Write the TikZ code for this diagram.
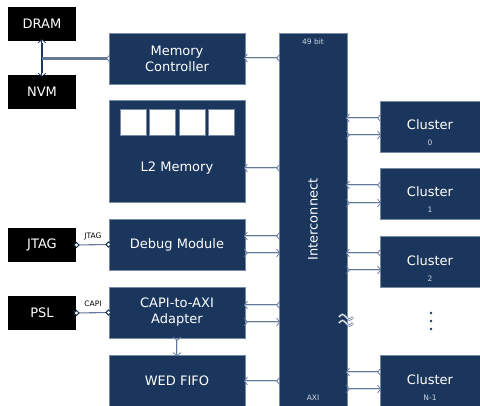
\documentclass[tikz,border=0pt]{standalone}
\usepackage{fontspec}
\setmainfont{DejaVu Sans}
\usetikzlibrary{arrows.meta,calc}
\definecolor{navy}{RGB}{27,54,93}
\definecolor{wire}{RGB}{100,120,152}
\definecolor{core}{RGB}{212,220,232}
\definecolor{rim}{RGB}{120,138,165}
\definecolor{faint}{RGB}{205,214,226}
\begin{document}
\begin{tikzpicture}[x=1pt,y=-1pt,
  block/.style={draw=rim, line width=0.6pt, fill=navy, text=white, inner sep=0pt,
    align=center, font=\fontsize{13}{16}\selectfont},
  unit/.style={block, minimum width=136pt, minimum height=51pt},
  clus/.style={block, minimum width=100pt, minimum height=51pt},
  ext/.style={fill=black, text=white, inner sep=0pt, minimum width=68pt,
    minimum height=34pt, font=\fontsize{13}{16}\selectfont},
  lbl/.style={text=white, inner sep=0pt, font=\fontsize{13}{16}\selectfont},
  tiny/.style={inner sep=0pt, font=\fontsize{7.5}{9}\selectfont},
  tinyw/.style={tiny, text=faint},
  cell/.style={fill=white, draw=rim, line width=0.4pt, minimum size=26pt, inner sep=0pt},
  wirebase/.style={draw=wire, line width=0.75pt, double=core, double distance=0.8pt},
  conn/.style={wirebase, shorten <=-1.5pt, shorten >=-1.5pt,
    {Straight Barb[reversed,round,length=3.2pt,width=7.5pt]}-{Straight Barb[round,length=3.2pt,width=7.5pt]}},
  tap/.style={wirebase, shorten <=-1.5pt,
    {Straight Barb[reversed,round,length=3.2pt,width=7.5pt]}-},
  bidir/.style={draw=navy, line width=0.75pt, double=white, double distance=0.8pt,
    shorten <=-2pt, shorten >=-2pt,
    {Straight Barb[round,length=3.2pt,width=7.5pt]}-{Straight Barb[round,length=3.2pt,width=7.5pt]}},
  dia/.style={draw=wire, line width=1.1pt, shorten <=-3pt, shorten >=-3pt,
    {Diamond[fill=white,color=navy!70!black,line width=1pt,length=6.5pt,width=6.5pt]}-{Diamond[fill=white,color=navy,line width=1pt,length=6.5pt,width=6.5pt]}},
  dot/.style={fill=navy, circle, inner sep=0pt, minimum size=2.6pt}
]
\useasboundingbox (0,0) rectangle (480,406);

% external parts
\node[ext] (dram) at (42,24) {DRAM};
\node[ext] (nvm)  at (42,92) {NVM};
\node[ext] (jtag) at (42,245) {JTAG};
\node[ext] (psl)  at (42,313) {PSL};

% on-chip units
\node[unit] (mc) at (177,58.5) {Memory\\Controller};
\node[block, minimum width=136pt, minimum height=102pt] (l2) at (177,151) {};
\node[lbl] (l2t) at (177,168) {L2 Memory};
\node[cell] (b1) at (133,122) {};
\node[cell] (b2) at (162,122) {};
\node[cell] (b3) at (192,122) {};
\node[cell] (b4) at (221,122) {};
\node[unit] (dm)   at (177,244.5) {Debug Module};
\node[unit] (capi) at (177,312.5) {CAPI-to-AXI\\Adapter};
\node[unit] (wed)  at (177,380.5) {WED FIFO};

% interconnect
\node[block, minimum width=68pt, minimum height=373pt] (ic) at (313,219.5) {};
\node[lbl, rotate=90] (ict) at (313,219.5) {Interconnect};
\node[tinyw] (icw) at (313,42) {49 bit};
\node[tinyw] (ica) at (313,398) {AXI};

% clusters
\node[clus] (c0) at (430,126.5) {};
\node[clus] (c1) at (430,193.5) {};
\node[clus] (c2) at (430,262) {};
\node[clus] (cn) at (430,381) {};
\foreach \c/\n in {c0/0, c1/1, c2/2, cn/N-1}{
  \node[lbl] (\c l) at ($(\c.center)+(0,-1.5)$) {Cluster};
  \node[tinyw] (\c s) at ($(\c.center)+(0,16.5)$) {\n};
}
\node[dot] (d1) at (431,313) {};
\node[dot] (d2) at (431,321) {};
\node[dot] (d3) at (431,329) {};

% memory side
\coordinate (mtap) at (dram.south |- mc.west);
\draw[bidir] (dram.south) -- (nvm.north);
\draw[navy, line width=1.3pt, shorten <=2pt, shorten >=2pt] (dram.south) -- (nvm.north);
\draw[tap] (mc.west) -- (mtap);
\draw[wire, line width=1.3pt, shorten <=2pt] (mc.west) -- (mtap);
\draw[conn] (ic.west |- 0,58) -- (mc.east |- 0,58);
\draw[conn] (ic.west |- 0,168) -- (l2.east |- 0,168);

% debug and host side
\draw[dia] (jtag.east) -- (dm.west);
\node[tiny] (jl) at (93,236) {JTAG};
\draw[dia] (psl.east) -- (capi.west);
\node[tiny] (cl) at (93,304) {CAPI};
\draw[conn] (ic.west |- 0,236) -- (dm.east |- 0,236);
\draw[conn] (dm.east |- 0,253) -- (ic.west |- 0,253);
\draw[conn] (ic.west |- 0,305) -- (capi.east |- 0,305);
\draw[conn] (capi.east |- 0,322) -- (ic.west |- 0,322);
\draw[conn] (capi.south) -- (wed.north);
\draw[conn] (ic.west |- 0,381) -- (wed.east |- 0,381);

% cluster ports
\foreach \c/\a/\b in {c0/118/135, c1/185/203, c2/253/270, cn/372/389}{
  \draw[conn] (\c.west |- 0,\a) -- (ic.east |- 0,\a);
  \draw[conn] (ic.east |- 0,\b) -- (\c.west |- 0,\b);
}

% break mark on the port column
\draw[wirebase, double=white] (339,317) sin (342.5,314.5) cos (346,317) sin (349.5,319.5) cos (353,317);
\draw[wirebase, double=white] (339,323) sin (342.5,320.5) cos (346,323) sin (349.5,325.5) cos (353,323);
\end{tikzpicture}
\end{document}
